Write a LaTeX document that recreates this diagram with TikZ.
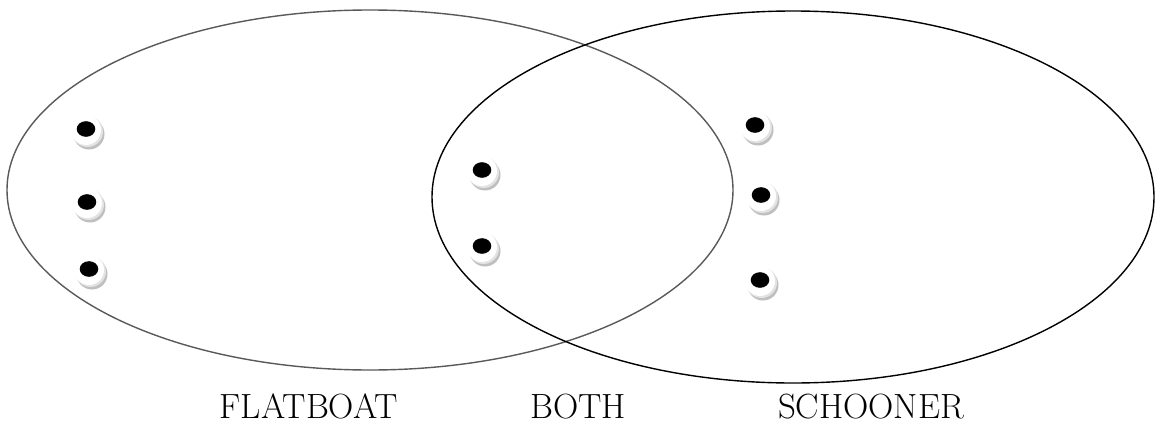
\documentclass[tikz,border=0pt]{standalone}
\begin{document}
\begin{tikzpicture}[x=1pt,y=-1pt,
  set/.style={line width=1.4pt},
  lbl/.style={font=\fontsize{35}{40}\selectfont, anchor=base, inner sep=0pt},
  pt/.pic={
    \fill[gray!50] (3,5) circle (15.5);
    \fill[gray!22] (1.5,2.5) circle (15.5);
    \fill[white] (0,1) circle (15);
    \fill[black] (0,0) ellipse (9.3 and 7.8);
  }]
\useasboundingbox (0,0) rectangle (1156,423);
\draw[set, gray!70!black] (370,190) ellipse (363 and 180);
\draw[set, black] (793,197) ellipse (361 and 186);
\pic (p1) at (86,129) {pt};
\pic (p2) at (87,202) {pt};
\pic (p3) at (89,269) {pt};
\pic (p4) at (482,170) {pt};
\pic (p5) at (482,246) {pt};
\pic (p6) at (755,125) {pt};
\pic (p7) at (761,195) {pt};
\pic (p8) at (760,280) {pt};
\node[lbl] (f) at (309,418) {FLATBOAT};
\node[lbl] (b) at (578,418) {BOTH};
\node[lbl] (s) at (871,418) {SCHOONER};
\end{tikzpicture}
\end{document}
